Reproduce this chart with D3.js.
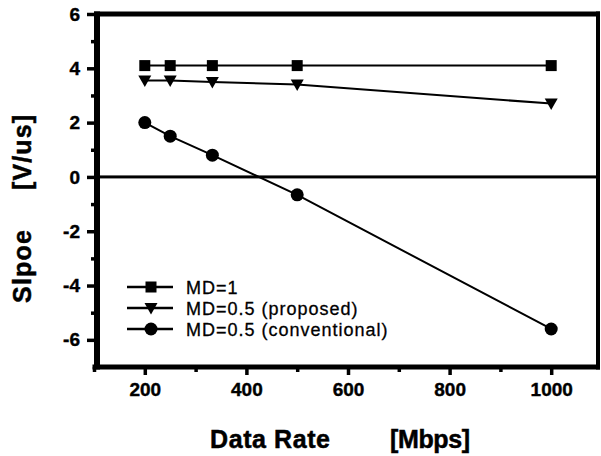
<!DOCTYPE html>
<html>
<head>
<meta charset="utf-8">
<script src="https://cdn.jsdelivr.net/npm/d3@7"></script>
<style>
  html, body { margin: 0; padding: 0; background: #fff; }
  svg { display: block; }
</style>
</head>
<body>
<div id="chart"></div>
<script>
// ---- data ----
const dataRates = [200, 250, 333, 500, 1000];
const md1 = [4.1, 4.1, 4.1, 4.1, 4.1];
const mdProposed = [3.55, 3.55, 3.5, 3.4, 2.7];
const mdConventional = [2.0, 1.5, 0.8, -0.66, -5.6];
const seriesNames = ["MD=1", "MD=0.5 (proposed)", "MD=0.5 (conventional)"];
const xMajorTicks = [200, 400, 600, 800, 1000];
const xMinorTicks = [100, 300, 500, 700, 900];
const yMajorTicks = [-6, -4, -2, 0, 2, 4, 6];
const yMinorTicks = [-5, -3, -1, 1, 3, 5];

const W = 601, H = 456;
const plotLeft = 97, plotRight = 598, plotTop = 14, plotBottom = 367;

const svg = d3.select("#chart").append("svg")
  .attr("width", W).attr("height", H);

const x = d3.scaleLinear().domain([100, 1100]).range([94, 602]);
const y = d3.scaleLinear().domain([-7, 6]).range([plotBottom, plotTop]);

const font = "'Liberation Sans', Arial, Helvetica, sans-serif";

// ---- axes ----
const yAxis = svg.append("g").attr("transform", `translate(${plotLeft},0)`)
  .call(d3.axisLeft(y).tickValues(yMajorTicks).tickSize(10).tickPadding(7)
    .tickFormat(d => String(d)));
yAxis.select(".domain").remove();
yAxis.selectAll(".tick line").attr("stroke", "#000").style("stroke-width", "3.5px");
yAxis.selectAll(".tick text").attr("font-family", font).attr("font-size", 19)
  .attr("font-weight", "bold").attr("fill", "#000")
  .attr("stroke", "#000").attr("stroke-width", 0.4);

const yMinor = svg.append("g").attr("transform", `translate(${plotLeft},0)`)
  .call(d3.axisLeft(y).tickValues(yMinorTicks).tickSize(6).tickFormat(""));
yMinor.select(".domain").remove();
yMinor.selectAll(".tick line").attr("stroke", "#000").style("stroke-width", "3.5px");

const xAxis = svg.append("g").attr("transform", `translate(0,${plotBottom})`)
  .call(d3.axisBottom(x).tickValues(xMajorTicks).tickSize(8).tickPadding(8)
    .tickFormat(d => String(d)));
xAxis.select(".domain").remove();
xAxis.selectAll(".tick line").attr("stroke", "#000").style("stroke-width", "3.5px");
xAxis.selectAll(".tick text").attr("font-family", font).attr("font-size", 19)
  .attr("font-weight", "bold").attr("fill", "#000")
  .attr("stroke", "#000").attr("stroke-width", 0.4);

const xMinor = svg.append("g").attr("transform", `translate(0,${plotBottom})`)
  .call(d3.axisBottom(x).tickValues(xMinorTicks).tickSize(5).tickFormat(""));
xMinor.select(".domain").remove();
xMinor.selectAll(".tick line").attr("stroke", "#000").style("stroke-width", "3.5px");

// ---- frame (filled bars) ----
const frame = svg.append("g").attr("fill", "#000");
frame.append("rect").attr("x", plotLeft - 3).attr("y", plotTop - 2.5).attr("width", plotRight - plotLeft + 5).attr("height", 5);
frame.append("rect").attr("x", plotRight - 2).attr("y", plotTop - 2.5).attr("width", 4).attr("height", plotBottom - plotTop + 5);
frame.append("rect").attr("x", x(100) - 1.5).attr("y", plotBottom - 2.5).attr("width", plotRight + 2 - x(100) + 1.5).attr("height", 5);
frame.append("rect").attr("x", plotLeft - 3).attr("y", plotTop - 2.5).attr("width", 6).attr("height", plotBottom - plotTop + 5);
frame.append("rect").attr("x", plotLeft).attr("y", y(0) - 1.5).attr("width", plotRight - plotLeft).attr("height", 3);

// ---- series ----
const series = [md1, mdProposed, mdConventional];
const markerTypes = ["square", "triangle", "circle"];

function drawMarker(g, type, cx, cy) {
  if (type === "square") {
    g.append("rect").attr("x", cx - 5.5).attr("y", cy - 5.5).attr("width", 11).attr("height", 11).attr("fill", "#000");
  } else if (type === "triangle") {
    g.append("path").attr("d", `M${cx - 6.5},${cy - 5}L${cx + 6.5},${cy - 5}L${cx},${cy + 6.5}Z`).attr("fill", "#000");
  } else {
    g.append("circle").attr("cx", cx).attr("cy", cy).attr("r", 6.5).attr("fill", "#000");
  }
}

const line = d3.line().x(d => x(d[0])).y(d => y(d[1]));
series.forEach((vals, i) => {
  const pts = dataRates.map((r, j) => [r, vals[j]]);
  svg.append("path").attr("d", line(pts)).attr("fill", "none")
    .attr("stroke", "#000").attr("stroke-width", 2);
  const g = svg.append("g");
  pts.forEach(p => drawMarker(g, markerTypes[i], x(p[0]), y(p[1])));
});

// ---- legend ----
const legend = svg.append("g");
const legendRows = [287, 308, 329];
seriesNames.forEach((name, i) => {
  const ly = legendRows[i];
  legend.append("line").attr("x1", 127).attr("x2", 173).attr("y1", ly).attr("y2", ly)
    .attr("stroke", "#000").attr("stroke-width", 2.5);
  drawMarker(legend, markerTypes[i], 151, ly);
  legend.append("text").attr("x", 186).attr("y", ly + 6.5)
    .attr("font-family", font).attr("font-size", 18).attr("letter-spacing", 1)
    .attr("fill", "#000").attr("stroke", "#000").attr("stroke-width", 0.3).text(name);
});

// ---- axis titles ----
svg.append("text").attr("x", 210).attr("y", 448)
  .attr("font-family", font).attr("font-size", 25).attr("font-weight", "bold")
  .attr("fill", "#000").attr("stroke", "#000").attr("stroke-width", 0.5)
  .attr("textLength", 120).text("Data Rate");
svg.append("text").attr("x", 390).attr("y", 448)
  .attr("font-family", font).attr("font-size", 25).attr("font-weight", "bold")
  .attr("fill", "#000").attr("stroke", "#000").attr("stroke-width", 0.5)
  .attr("textLength", 80).text("[Mbps]");

svg.append("text").attr("transform", "translate(31,303) rotate(-90)")
  .attr("font-family", font).attr("font-size", 25).attr("font-weight", "bold")
  .attr("fill", "#000").attr("stroke", "#000").attr("stroke-width", 0.5)
  .attr("textLength", 73).text("Slpoe");
svg.append("text").attr("transform", "translate(31,190) rotate(-90)")
  .attr("font-family", font).attr("font-size", 25).attr("font-weight", "bold")
  .attr("fill", "#000").attr("stroke", "#000").attr("stroke-width", 0.5)
  .attr("textLength", 75).text("[V/us]");
</script>
</body>
</html>
